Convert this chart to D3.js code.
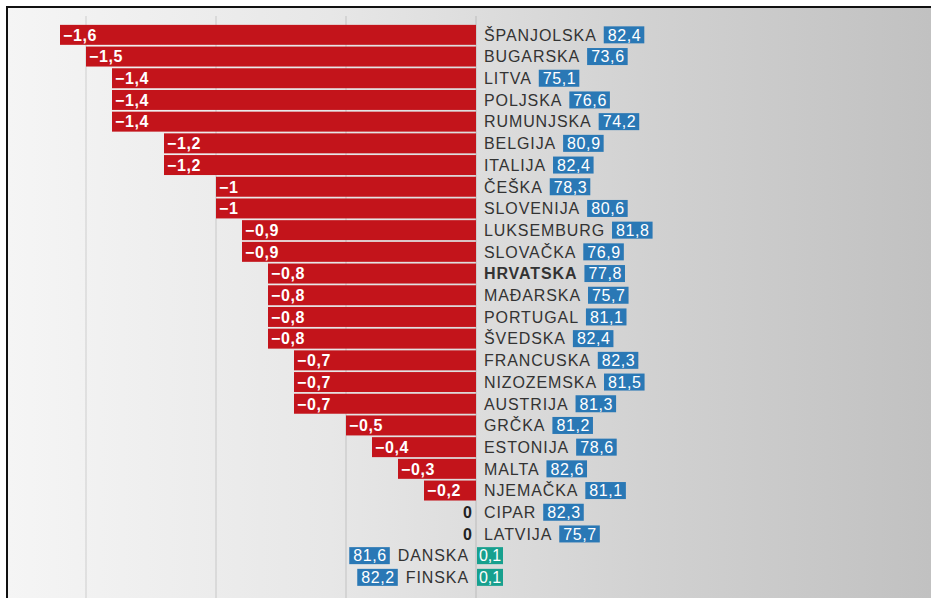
<!DOCTYPE html>
<html>
<head>
<meta charset="utf-8">
<script src="https://cdn.jsdelivr.net/npm/d3@7"></script>
<style>
  html, body { margin: 0; padding: 0; background: #fff; }
  svg { display: block; }
</style>
</head>
<body>
<svg id="chart"></svg>
<script>
// data
const countries = ["ŠPANJOLSKA", "BUGARSKA", "LITVA", "POLJSKA", "RUMUNJSKA", "BELGIJA", "ITALIJA",
  "ČEŠKA", "SLOVENIJA", "LUKSEMBURG", "SLOVAČKA", "HRVATSKA", "MAĐARSKA", "PORTUGAL", "ŠVEDSKA",
  "FRANCUSKA", "NIZOZEMSKA", "AUSTRIJA", "GRČKA", "ESTONIJA", "MALTA", "NJEMAČKA", "CIPAR",
  "LATVIJA", "DANSKA", "FINSKA"];
const change = [-1.6, -1.5, -1.4, -1.4, -1.4, -1.2, -1.2, -1, -1, -0.9, -0.9, -0.8, -0.8, -0.8,
  -0.8, -0.7, -0.7, -0.7, -0.5, -0.4, -0.3, -0.2, 0, 0, 0.1, 0.1];
const lifeExp = [82.4, 73.6, 75.1, 76.6, 74.2, 80.9, 82.4, 78.3, 80.6, 81.8, 76.9, 77.8, 75.7,
  81.1, 82.4, 82.3, 81.5, 81.3, 81.2, 78.6, 82.6, 81.1, 82.3, 75.7, 81.6, 82.2];
const gridTicks = [-1.5, -1, -0.5, 0];
const highlight = "HRVATSKA";

const width = 931, height = 598;
const rows = countries.map((c, i) => ({ name: c, change: change[i], life: lifeExp[i] }));

const locale = d3.formatLocale({ decimal: ",", thousands: ".", grouping: [3], currency: ["", ""], minus: "\u2212" });
const fmt = v => locale.format("~g")(v);

const svg = d3.select("#chart").attr("width", width).attr("height", height);

// background gradient
const defs = svg.append("defs");
const grad = defs.append("linearGradient").attr("id", "bg").attr("x1", 0).attr("x2", 1).attr("y1", 0).attr("y2", 0);
[[0, "#f5f5f5"], [0.35, "#e7e7e7"], [0.7, "#d1d1d1"], [1, "#c1c1c1"]].forEach(s =>
  grad.append("stop").attr("offset", s[0]).attr("stop-color", s[1]));

svg.append("rect").attr("width", width).attr("height", height).attr("fill", "#fff");
svg.append("rect").attr("x", 7).attr("y", 7).attr("width", width - 7).attr("height", height - 7).attr("fill", "url(#bg)");
svg.append("line").attr("x1", 7).attr("x2", 7).attr("y1", 6).attr("y2", height).attr("stroke", "#111").attr("stroke-width", 2);
svg.append("line").attr("x1", 6).attr("x2", width).attr("y1", 7).attr("y2", 7).attr("stroke", "#111").attr("stroke-width", 2);

const x = d3.scaleLinear().domain([-1.6, 0]).range([60, 476]);
const y = d3.scaleBand().domain(countries).range([24, 24 + 26 * 21.7]).paddingInner(0.08).paddingOuter(0.04);

// grid lines
svg.append("g").selectAll("line").data(gridTicks).join("line")
  .attr("x1", d => x(d)).attr("x2", d => x(d))
  .attr("y1", 16).attr("y2", height)
  .attr("stroke", "rgba(0,0,0,0.1)").attr("stroke-width", 1.5);

const labelFont = "'Liberation Sans', Arial, sans-serif";
const fs = 16, ls = 0.9;

// negative bars
const neg = rows.filter(d => d.change < 0);
svg.append("g").selectAll("rect").data(neg).join("rect")
  .attr("x", d => x(d.change)).attr("y", d => y(d.name))
  .attr("width", d => x(0) - x(d.change)).attr("height", y.bandwidth())
  .attr("fill", "#c3141b");

svg.append("g").selectAll("text").data(neg).join("text")
  .attr("x", d => x(d.change) + 3).attr("y", d => y(d.name) + y.bandwidth() / 2)
  .attr("dy", "0.36em")
  .attr("fill", "#fff").attr("font-family", labelFont).attr("font-weight", "bold")
  .attr("font-size", fs).attr("letter-spacing", 0.6)
  .text(d => fmt(d.change));

// zero labels
svg.append("g").selectAll("text").data(rows.filter(d => d.change === 0)).join("text")
  .attr("x", x(0) - 4).attr("y", d => y(d.name) + y.bandwidth() / 2)
  .attr("dy", "0.36em").attr("text-anchor", "end")
  .attr("fill", "#222").attr("font-family", labelFont).attr("font-weight", "bold").attr("font-size", fs)
  .text(d => fmt(d.change));

// positive bars
const pos = rows.filter(d => d.change > 0);
const boxH = 17;
svg.append("g").selectAll("rect").data(pos).join("rect")
  .attr("x", x(0) + 1).attr("y", d => y(d.name) + (y.bandwidth() - boxH) / 2)
  .attr("width", d => x(d.change) - x(0)).attr("height", boxH)
  .attr("fill", "#17a08e");
svg.append("g").selectAll("text").data(pos).join("text")
  .attr("x", d => x(0) + 1 + (x(d.change) - x(0)) / 2).attr("y", d => y(d.name) + y.bandwidth() / 2)
  .attr("dy", "0.36em").attr("text-anchor", "middle")
  .attr("fill", "#fff").attr("font-family", labelFont).attr("font-size", fs)
  .text(d => fmt(d.change));

// country names and life expectancy boxes
const lab = svg.append("g");
rows.forEach(d => {
  const cy = y(d.name) + y.bandwidth() / 2;
  const right = d.change <= 0;
  const name = lab.append("text")
    .attr("x", right ? x(0) + 8 : x(0) - 7).attr("y", cy).attr("dy", "0.36em")
    .attr("text-anchor", right ? "start" : "end")
    .attr("fill", "#333").attr("font-family", labelFont).attr("font-size", fs)
    .attr("letter-spacing", ls)
    .attr("font-weight", d.name === highlight ? "bold" : "normal")
    .text(d.name);
  const nw = name.node().getComputedTextLength();
  const g = lab.append("g");
  const t = g.append("text").attr("y", cy).attr("dy", "0.36em")
    .attr("fill", "#fff").attr("font-family", labelFont).attr("font-size", fs)
    .attr("letter-spacing", 0.6)
    .text(fmt(d.life));
  const tw = t.node().getComputedTextLength();
  const bw = tw + 7;
  const bx = right ? x(0) + 8 + nw + 7 : x(0) - 7 - nw - 8 - bw;
  g.insert("rect", "text").attr("x", bx).attr("y", cy - boxH / 2).attr("width", bw).attr("height", boxH)
    .attr("fill", "#2a78b5");
  t.attr("x", bx + 4);
});
</script>
</body>
</html>
